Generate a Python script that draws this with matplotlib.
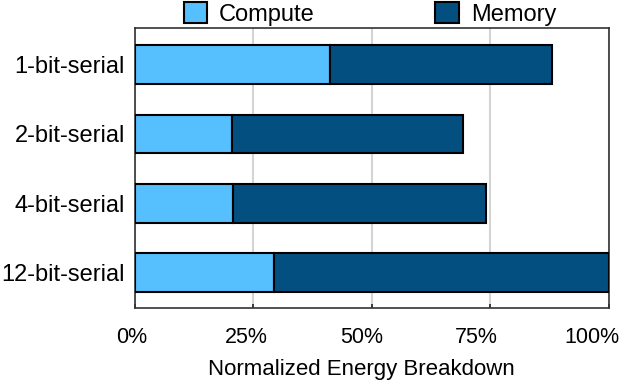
import matplotlib.pyplot as plt

plt.rcParams['font.family'] = ['Liberation Sans', 'DejaVu Sans']

categories = ['1-bit-serial', '2-bit-serial', '4-bit-serial', '12-bit-serial']
compute = [41.2, 20.5, 20.8, 29.4]
memory = [46.8, 48.7, 53.3, 70.6]
xticks = [0, 25, 50, 75, 100]
xtick_labels = ['0%', '25%', '50%', '75%', '100%']

light = '#56BFFE'
dark = '#034F80'

W, H = 640, 389
fig = plt.figure(figsize=(6.4, 3.89), dpi=100)
ax = fig.add_axes([134.5 / W, 1 - 307.7 / H, 474.5 / W, 279.7 / H])

ypos = range(len(categories))
ax.barh(ypos, compute, height=0.56, color=light, edgecolor='black', linewidth=1.5,
        label='Compute', zorder=3)
ax.barh(ypos, memory, left=compute, height=0.56, color=dark, edgecolor='black',
        linewidth=1.5, label='Memory', zorder=3)

ax.set_xlim(0, 100)
ax.set_ylim(3.51, -0.53)
ax.set_yticks(list(ypos))
ax.set_yticklabels(categories, fontsize=17)
ax.tick_params(axis='y', length=0, pad=7)
ax.set_xticks(xticks)
ax.tick_params(axis='x', direction='in', length=3, width=1.2, color='#222222',
               labelbottom=False)
ax.grid(axis='x', color='#d4d4d4', linewidth=1.5, zorder=0)
for s in ax.spines.values():
    s.set_color('#333333')
    s.set_linewidth(1.2)

# tick labels and axis title sit on a slightly narrower scale than the plot
lab = fig.add_axes([131.7 / W, 1 - 307.7 / H, 459.8 / W, 279.7 / H])
lab.patch.set_visible(False)
for s in lab.spines.values():
    s.set_visible(False)
lab.set_xlim(0, 100)
lab.set_yticks([])
lab.set_xticks(xticks)
lab.set_xticklabels(xtick_labels, fontsize=15.5)
lab.tick_params(axis='x', length=0, pad=14)
lab.set_xlabel('Normalized Energy Breakdown', fontsize=16, labelpad=8)

fig.legend(*ax.get_legend_handles_labels(), loc='center',
           bbox_to_anchor=(0.578, 0.964), ncol=2, frameon=False,
           fontsize=17, handlelength=1.0, handleheight=1.0, handletextpad=0.5,
           columnspacing=5.1, borderpad=0)

fig.savefig('out.png', dpi=100)
